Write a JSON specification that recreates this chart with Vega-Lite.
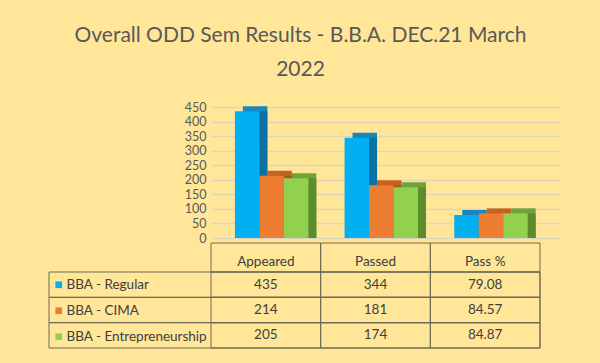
{
  "$schema": "https://vega.github.io/schema/vega-lite/v6.json",
  "background": "#FFE699",
  "autosize": {"type": "none"},
  "padding": {"left": 49, "top": 107, "right": 60, "bottom": 15},
  "width": 491,
  "height": 241,
  "title": {
    "text": ["Overall ODD Sem Results - B.B.A. DEC.21 March", "2022"],
    "font": "Lato",
    "fontSize": 21,
    "fontWeight": "normal",
    "color": "#595959",
    "lineHeight": 34,
    "anchor": "middle",
    "frame": "group",
    "dx": 6,
    "offset": 21
  },
  "config": {"view": {"stroke": null}, "font": "Lato"},
  "data": {"values": [
    {"category": "Appeared", "series": "BBA - Regular", "value": 435},
    {"category": "Appeared", "series": "BBA - CIMA", "value": 214},
    {"category": "Appeared", "series": "BBA - Entrepreneurship", "value": 205},
    {"category": "Passed", "series": "BBA - Regular", "value": 344},
    {"category": "Passed", "series": "BBA - CIMA", "value": 181},
    {"category": "Passed", "series": "BBA - Entrepreneurship", "value": 174},
    {"category": "Pass %", "series": "BBA - Regular", "value": 79.08},
    {"category": "Pass %", "series": "BBA - CIMA", "value": 84.57},
    {"category": "Pass %", "series": "BBA - Entrepreneurship", "value": 84.87}
  ]},
  "layer": [
    {
      "encoding": {
        "x": {"field": "category", "type": "nominal", "sort": ["Appeared", "Passed", "Pass %"],
              "scale": {"range": [162, 511], "paddingInner": 0, "paddingOuter": 0.0912, "align": 0}, "axis": null},
        "y": {"field": "value", "type": "quantitative", "stack": null,
              "scale": {"domain": [0, 450], "range": [131, 0], "nice": false, "zero": false},
              "axis": {"values": [0, 50, 100, 150, 200, 250, 300, 350, 400, 450], "title": null, "domain": false, "ticks": false,
                       "offset": -162, "labelPadding": 5, "labelFontSize": 12.5, "labelColor": "#595959", "labelFont": "Lato",
                       "gridColor": "#DDD5BC", "gridWidth": 1.5}}
      },
      "layer": [
        {
          "mark": {"type": "bar", "yOffset": -5},
          "encoding": {
            "xOffset": {"field": "series", "type": "nominal", "sort": ["BBA - Regular", "BBA - CIMA", "BBA - Entrepreneurship"],
                        "scale": {"paddingInner": 0, "paddingOuter": 0.74, "align": 0.88}},
            "color": {"field": "series", "type": "nominal",
              "scale": {"domain": ["BBA - Regular", "BBA - CIMA", "BBA - Entrepreneurship"], "range": ["#1A86BF", "#C4621E", "#6FA33A"]}, "legend": null}}
        },
        {
          "mark": {"type": "bar"},
          "encoding": {
            "xOffset": {"field": "series", "type": "nominal", "sort": ["BBA - Regular", "BBA - CIMA", "BBA - Entrepreneurship"],
                        "scale": {"paddingInner": 0, "paddingOuter": 0.74, "align": 0.88}},
            "color": {"field": "series", "type": "nominal",
              "scale": {"domain": ["BBA - Regular", "BBA - CIMA", "BBA - Entrepreneurship"], "range": ["#0E71A3", "#B0541A", "#5C8C2C"]}, "legend": null}}
        },
        {
          "mark": {"type": "bar"},
          "encoding": {
            "xOffset": {"field": "series", "type": "nominal", "sort": ["BBA - Regular", "BBA - CIMA", "BBA - Entrepreneurship"],
                        "scale": {"paddingInner": 0, "paddingOuter": 0.74, "align": 0.66}},
            "color": {"field": "series", "type": "nominal",
              "scale": {"domain": ["BBA - Regular", "BBA - CIMA", "BBA - Entrepreneurship"], "range": ["#00B0F0", "#ED7D31", "#92D050"]},
              "legend": {"orient": "none", "legendX": 3, "legendY": 171, "title": null, "padding": 0,
                         "symbolType": "square", "symbolSize": 45, "symbolStrokeWidth": 0,
                         "labelFontSize": 13.5, "labelColor": "#404040", "labelFont": "Lato",
                         "rowPadding": 11, "labelOffset": 1}}}
        }
      ],
      "resolve": {"scale": {"color": "independent", "xOffset": "independent"}}
    },
    {
      "transform": [{"aggregate": [{"op": "count", "as": "n"}], "groupby": ["category"]}],
      "encoding": {
        "x": {"field": "category", "type": "nominal", "sort": ["Appeared", "Passed", "Pass %"],
              "scale": {"range": [162, 511], "paddingInner": 0, "paddingOuter": 0.0912, "align": 0}, "axis": null},
        "y": {"datum": "header", "type": "nominal",
              "scale": {"domain": ["header"], "range": [136, 165], "paddingInner": 0, "paddingOuter": 0}, "axis": null}
      },
      "layer": [
        {"mark": {"type": "rect", "fillOpacity": 0, "stroke": "#6F6A55", "strokeWidth": 1}},
        {"mark": {"type": "text", "fontSize": 13.5, "color": "#404040", "font": "Lato", "baseline": "middle", "dy": 4},
         "encoding": {"text": {"field": "category"}}}
      ]
    },
    {
      "encoding": {
        "y": {"field": "series", "type": "nominal", "sort": ["BBA - Regular", "BBA - CIMA", "BBA - Entrepreneurship"],
              "scale": {"range": [165, 241], "paddingInner": 0, "paddingOuter": 0}, "axis": null}
      },
      "layer": [
        {
          "transform": [{"aggregate": [{"op": "count", "as": "n"}], "groupby": ["series"]}],
          "mark": {"type": "rect", "fillOpacity": 0, "stroke": "#6F6A55", "strokeWidth": 1}
        },
        {
          "encoding": {
            "x": {"field": "category", "type": "nominal", "sort": ["Appeared", "Passed", "Pass %"],
                  "scale": {"range": [162, 511], "paddingInner": 0, "paddingOuter": 0.0912, "align": 0}, "axis": null}
          },
          "layer": [
            {"mark": {"type": "rect", "fillOpacity": 0, "stroke": "#6F6A55", "strokeWidth": 1}},
            {"mark": {"type": "text", "fontSize": 13.5, "color": "#404040", "font": "Lato", "baseline": "middle"},
             "encoding": {"text": {"field": "value", "type": "nominal"}}}
          ]
        }
      ]
    }
  ],
  "resolve": {"scale": {"y": "independent"}}
}
